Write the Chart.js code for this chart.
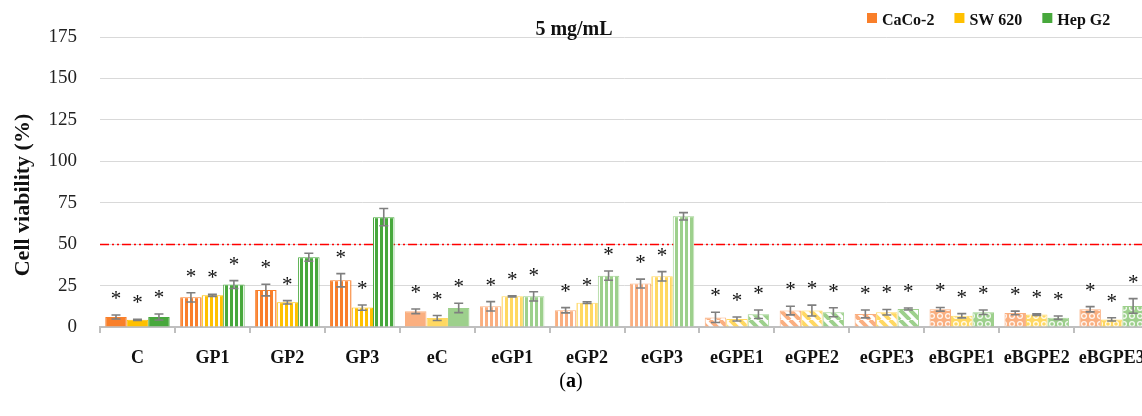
<!DOCTYPE html>
<html>
<head>
<meta charset="utf-8">
<script src="https://cdn.jsdelivr.net/npm/chart.js@4.4.0/dist/chart.umd.min.js"></script>
<style>
  body { margin: 0; overflow: hidden; background: #fff; }
  #wrap { position: relative; width: 1160px; height: 416px; }
  #cap { position: absolute; left: 0; top: 369px; width: 1142px; text-align: center;
         font: 20px "Liberation Serif", serif; color: #000; }
</style>
</head>
<body>
<div id="wrap">
  <canvas id="chart" width="1160" height="416"></canvas>
  <div id="cap">(<b>a</b>)</div>
</div>
<script>
// Dữ liệu
const categories = ['C', 'GP1', 'GP2', 'GP3', 'eC', 'eGP1', 'eGP2', 'eGP3',
                    'eGPE1', 'eGPE2', 'eGPE3', 'eBGPE1', 'eBGPE2', 'eBGPE3'];
const seriesNames = ['CaCo-2', 'SW 620', 'Hep G2'];

const caco2    = [6.0, 17.9, 22.3, 28.2, 9.5, 12.5, 10.1, 26.2, 5.8, 9.9, 7.9, 10.7, 8.5, 10.7];
const caco2Err = [1.2, 2.8, 3.5, 4.0, 1.4, 2.8, 1.6, 2.7, 3.1, 2.6, 2.4, 1.1, 1.1, 1.6];
const sw620    = [4.3, 19.1, 14.9, 11.7, 5.4, 18.5, 14.7, 30.6, 4.8, 9.9, 8.9, 6.8, 7.5, 4.6];
const sw620Err = [0.4, 0.6, 1.0, 1.6, 1.5, 0.3, 0.5, 2.8, 1.2, 3.3, 1.7, 1.3, 0.5, 1.0];
const hepg2    = [6.0, 25.6, 42.1, 66.3, 11.5, 18.5, 31.0, 66.8, 7.7, 8.9, 10.9, 8.9, 5.6, 12.7];
const hepg2Err = [1.8, 2.4, 2.4, 5.2, 2.8, 2.8, 2.8, 2.2, 2.6, 2.7, 0.6, 1.4, 1.0, 4.4];

// dấu * (có ý nghĩa thống kê) cho từng cột
const caco2Sig = ['*', '*', '*', '*', '*', '*', '*', '*', '*', '*', '*', '*', '*', '*'];
const sw620Sig = ['*', '*', '*', '*', '*', '*', '*', '*', '*', '*', '*', '*', '*', '*'];
const hepg2Sig = ['*', '*', '',  '',  '*', '*', '*', '',  '*', '*', '*', '*', '*', '*'];

const yMin = 0, yMax = 175, yStep = 25;
const threshold = 50;
const chartTitle = '5 mg/mL';
const yTitle = 'Cell viability (%)';

// Kiểu tô cho từng nhóm
const fillKind = ['solid', 'vstripe', 'vstripe', 'vstripe', 'solid', 'vstripe', 'vstripe', 'vstripe',
                  'diag', 'diag', 'diag', 'dots', 'dots', 'dots'];
const fillTone = ['dark', 'dark', 'dark', 'dark', 'light', 'light', 'light', 'light',
                  'light', 'light', 'light', 'light', 'light', 'light'];
const darkColors  = ['#F97F2A', '#FFC000', '#47A83C'];
const lightColors = ['#FAAF80', '#FFD862', '#9DD08C'];

function makeFill(kind, color) {
    if (kind === 'solid') return color;
    const c = document.createElement('canvas');
    const x = c.getContext('2d');
    if (kind === 'vstripe') {
        c.width = 5; c.height = 5;
        x.fillStyle = '#fff'; x.fillRect(0, 0, 5, 5);
        x.fillStyle = color; x.fillRect(0, 0, 3, 5);
    } else if (kind === 'diag') {
        c.width = 10; c.height = 10;
        x.fillStyle = '#fff'; x.fillRect(0, 0, 10, 10);
        x.strokeStyle = color; x.lineWidth = 4;
        x.beginPath();
        for (const o of [-10, 0, 10]) { x.moveTo(o, 0); x.lineTo(o + 10, 10); }
        x.stroke();
    } else if (kind === 'dots') {
        c.width = 8; c.height = 8;
        x.fillStyle = color; x.fillRect(0, 0, 8, 8);
        x.strokeStyle = 'rgba(255,255,255,0.9)'; x.lineWidth = 1.2;
        x.beginPath(); x.arc(4, 4, 2.4, 0, Math.PI * 2); x.stroke();
    }
    return x.createPattern(c, 'repeat');
}

const values = [caco2, sw620, hepg2];
const errors = [caco2Err, sw620Err, hepg2Err];
const sigs = [caco2Sig, sw620Sig, hepg2Sig];

const datasets = seriesNames.map((name, i) => {
    const cols = categories.map((_, j) => fillTone[j] === 'dark' ? darkColors[i] : lightColors[i]);
    return {
        label: name,
        data: values[i],
        backgroundColor: categories.map((_, j) => makeFill(fillKind[j], cols[j])),
        borderColor: cols,
        borderWidth: 1,
        categoryPercentage: 0.86,
        barPercentage: 1.0
    };
});

const FONT = '"Liberation Serif", "Times New Roman", serif';

const extras = {
    id: 'extras',
    beforeDatasetsDraw(chart) {
        const { ctx, chartArea, scales } = chart;
        const y = Math.round(scales.y.getPixelForValue(threshold)) + 0.5;
        ctx.save();
        ctx.strokeStyle = '#FF0000';
        ctx.lineWidth = 1.3;
        ctx.setLineDash([9, 3, 2, 3, 2, 3]);
        ctx.beginPath();
        ctx.moveTo(chartArea.left, y);
        ctx.lineTo(chartArea.right, y);
        ctx.stroke();
        ctx.restore();
    },
    afterDatasetsDraw(chart) {
        const { ctx, scales } = chart;
        ctx.save();
        values.forEach((vals, i) => {
            const meta = chart.getDatasetMeta(i);
            meta.data.forEach((el, j) => {
                const v = vals[j], e = errors[i][j];
                const x = el.x;
                const yt = scales.y.getPixelForValue(v + e);
                const yb = scales.y.getPixelForValue(Math.max(v - e, 0));
                ctx.strokeStyle = '#7F7F7F';
                ctx.lineWidth = 1.6;
                ctx.beginPath();
                ctx.moveTo(x, yt); ctx.lineTo(x, yb);
                ctx.moveTo(x - 4.5, yt); ctx.lineTo(x + 4.5, yt);
                ctx.moveTo(x - 4.5, yb); ctx.lineTo(x + 4.5, yb);
                ctx.stroke();
                if (sigs[i][j]) {
                    ctx.fillStyle = '#111';
                    ctx.font = '21px ' + FONT;
                    ctx.textAlign = 'center';
                    ctx.textBaseline = 'alphabetic';
                    ctx.fillText(sigs[i][j], x, yt - 10);
                }
            });
        });
        ctx.restore();
    },
    afterDraw(chart) {
        const { ctx } = chart;
        ctx.save();
        ctx.fillStyle = '#111';
        // tiêu đề
        ctx.font = 'bold 20px ' + FONT;
        ctx.textAlign = 'center';
        ctx.textBaseline = 'alphabetic';
        ctx.fillText(chartTitle, 574, 35);
        // chú thích
        ctx.font = 'bold 16px ' + FONT;
        ctx.textAlign = 'left';
        let lx = 867;
        seriesNames.forEach((name, i) => {
            ctx.fillStyle = darkColors[i];
            ctx.fillRect(lx, 13, 10, 10);
            ctx.fillStyle = '#111';
            ctx.fillText(name, lx + 15, 25);
            lx += 15 + ctx.measureText(name).width + 20;
        });
        // tên trục y
        ctx.translate(23, 195);
        ctx.rotate(-Math.PI / 2);
        ctx.font = 'bold 22px ' + FONT;
        ctx.textAlign = 'center';
        ctx.textBaseline = 'middle';
        ctx.fillText(yTitle, 0, 0);
        ctx.restore();
    }
};

new Chart(document.getElementById('chart').getContext('2d'), {
    type: 'bar',
    data: { labels: categories, datasets: datasets },
    options: {
        responsive: false,
        animation: false,
        layout: { padding: { top: 37, right: 10, left: 0, bottom: 0 } },
        plugins: { legend: { display: false }, title: { display: false }, tooltip: { enabled: false } },
        scales: {
            x: {
                afterFit: (s) => { s.height = 89; },
                grid: { offset: true, drawOnChartArea: false, drawTicks: true, tickLength: 6,
                        color: '#BFBFBF', lineWidth: 2 },
                border: { display: true, color: '#BFBFBF', width: 2 },
                ticks: { font: { family: FONT, size: 18, weight: 'bold' }, color: '#111', padding: 15,
                         maxRotation: 0, autoSkip: false }
            },
            y: {
                min: yMin, max: yMax,
                afterFit: (s) => { s.width = 100; },
                grid: { color: '#D9D9D9', lineWidth: 1, drawTicks: false },
                border: { display: false },
                ticks: { stepSize: yStep, font: { family: FONT, size: 19 }, color: '#222', padding: 23 }
            }
        }
    },
    plugins: [extras]
});
</script>
</body>
</html>
